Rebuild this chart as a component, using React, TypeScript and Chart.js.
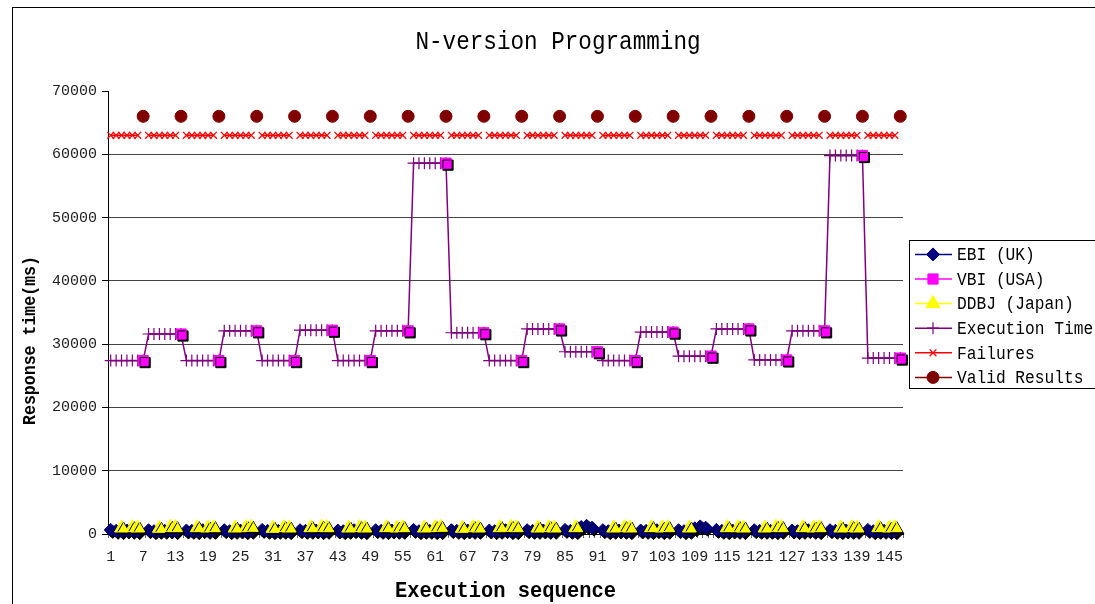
import React, { useEffect, useRef } from 'react';
import { Chart, registerables } from 'chart.js';
import { drawPoint } from 'chart.js/helpers';

Chart.register(...registerables);

const categories = [
  1, 2, 3, 4, 5, 6, 7, 8, 9, 10, 11, 12, 13, 14, 15, 16, 17, 18, 19, 20,
  21, 22, 23, 24, 25, 26, 27, 28, 29, 30, 31, 32, 33, 34, 35, 36, 37, 38, 39, 40,
  41, 42, 43, 44, 45, 46, 47, 48, 49, 50, 51, 52, 53, 54, 55, 56, 57, 58, 59, 60,
  61, 62, 63, 64, 65, 66, 67, 68, 69, 70, 71, 72, 73, 74, 75, 76, 77, 78, 79, 80,
  81, 82, 83, 84, 85, 86, 87, 88, 89, 90, 91, 92, 93, 94, 95, 96, 97, 98, 99, 100,
  101, 102, 103, 104, 105, 106, 107, 108, 109, 110, 111, 112, 113, 114, 115, 116, 117, 118, 119, 120,
  121, 122, 123, 124, 125, 126, 127, 128, 129, 130, 131, 132, 133, 134, 135, 136, 137, 138, 139, 140,
  141, 142, 143, 144, 145, 146, 147,
];

const yTicks = [0, 10000, 20000, 30000, 40000, 50000, 60000, 70000];

const ebi = [
  650, 500, 450, 550, 500, 450, null,
  600, 450, 500, 500, 550, 450, null,
  550, 500, 450, 600, 500, 500, null,
  600, 450, 500, 550, 450, 500, null,
  650, 500, 450, 500, 500, 450, null,
  600, 500, 500, 550, 450, 500, null,
  550, 450, 500, 600, 500, 450, null,
  600, 500, 450, 550, 500, 500, null,
  650, 450, 500, 500, 450, 450, null,
  600, 500, 450, 550, 500, 500, null,
  550, 450, 500, 600, 450, 450, null,
  600, 500, 500, 550, 500, 500, null,
  650, 500, 450, 1100, 1300, 1000, null,
  600, 450, 500, 550, 500, 450, null,
  550, 500, 450, 600, 450, 500, null,
  600, 450, 500, 900, 1200, 1000, null,
  650, 500, 450, 550, 500, 450, null,
  600, 500, 500, 500, 450, 500, null,
  550, 450, 500, 600, 500, 450, null,
  600, 500, 450, 550, 500, 500, null,
  650, 450, 500, 500, 450, 450, null,
];

const vbi = [
  null, null, null, null, null, null, 27400,
  null, null, null, null, null, null, 31600,
  null, null, null, null, null, null, 27400,
  null, null, null, null, null, null, 32100,
  null, null, null, null, null, null, 27400,
  null, null, null, null, null, null, 32200,
  null, null, null, null, null, null, 27400,
  null, null, null, null, null, null, 32100,
  null, null, null, null, null, null, 58600,
  null, null, null, null, null, null, 31800,
  null, null, null, null, null, null, 27400,
  null, null, null, null, null, null, 32400,
  null, null, null, null, null, null, 28800,
  null, null, null, null, null, null, 27400,
  null, null, null, null, null, null, 31900,
  null, null, null, null, null, null, 28100,
  null, null, null, null, null, null, 32400,
  null, null, null, null, null, null, 27500,
  null, null, null, null, null, null, 32100,
  null, null, null, null, null, null, 59800,
  null, null, null, null, null, null, 27800,
];

const ddbj = [
  null, null, 950, null, 1000, 950, null,
  null, null, 900, null, 1050, 1000, null,
  null, null, 1000, null, 950, 1000, null,
  null, null, 950, null, 1000, 1050, null,
  null, null, 900, null, 1000, 950, null,
  null, null, 1000, null, 1050, 1000, null,
  null, null, 950, null, 1000, 950, null,
  null, null, 1000, null, 950, 1000, null,
  null, null, 950, null, 1000, 1050, null,
  null, null, 900, null, 1000, 950, null,
  null, null, 1000, null, 1050, 1000, null,
  null, null, 950, null, 1000, 950, null,
  null, null, 1000, null, null, null, null,
  null, null, 950, null, 1000, 950, null,
  null, null, 1000, null, 950, 1000, null,
  null, null, 950, null, null, null, null,
  null, null, 1000, null, 1000, 950, null,
  null, null, 950, null, 1050, 1000, null,
  null, null, 1000, null, 950, 1000, null,
  null, null, 950, null, 1000, 950, null,
  null, null, 1000, null, 950, 1000, null,
];

const executionTime = [
  27400, 27400, 27400, 27400, 27400, 27400, 27400,
  31600, 31600, 31600, 31600, 31600, 31600, 31600,
  27400, 27400, 27400, 27400, 27400, 27400, 27400,
  32100, 32100, 32100, 32100, 32100, 32100, 32100,
  27400, 27400, 27400, 27400, 27400, 27400, 27400,
  32200, 32200, 32200, 32200, 32200, 32200, 32200,
  27400, 27400, 27400, 27400, 27400, 27400, 27400,
  32100, 32100, 32100, 32100, 32100, 32100, 32100,
  58600, 58600, 58600, 58600, 58600, 58600, 58600,
  31800, 31800, 31800, 31800, 31800, 31800, 31800,
  27400, 27400, 27400, 27400, 27400, 27400, 27400,
  32400, 32400, 32400, 32400, 32400, 32400, 32400,
  28800, 28800, 28800, 28800, 28800, 28800, 28800,
  27400, 27400, 27400, 27400, 27400, 27400, 27400,
  31900, 31900, 31900, 31900, 31900, 31900, 31900,
  28100, 28100, 28100, 28100, 28100, 28100, 28100,
  32400, 32400, 32400, 32400, 32400, 32400, 32400,
  27500, 27500, 27500, 27500, 27500, 27500, 27500,
  32100, 32100, 32100, 32100, 32100, 32100, 32100,
  59800, 59800, 59800, 59800, 59800, 59800, 59800,
  27800, 27800, 27800, 27800, 27800, 27800, 27800,
];

const failures = [
  63000, 63000, 63000, 63000, 63000, 63000, null,
  63000, 63000, 63000, 63000, 63000, 63000, null,
  63000, 63000, 63000, 63000, 63000, 63000, null,
  63000, 63000, 63000, 63000, 63000, 63000, null,
  63000, 63000, 63000, 63000, 63000, 63000, null,
  63000, 63000, 63000, 63000, 63000, 63000, null,
  63000, 63000, 63000, 63000, 63000, 63000, null,
  63000, 63000, 63000, 63000, 63000, 63000, null,
  63000, 63000, 63000, 63000, 63000, 63000, null,
  63000, 63000, 63000, 63000, 63000, 63000, null,
  63000, 63000, 63000, 63000, 63000, 63000, null,
  63000, 63000, 63000, 63000, 63000, 63000, null,
  63000, 63000, 63000, 63000, 63000, 63000, null,
  63000, 63000, 63000, 63000, 63000, 63000, null,
  63000, 63000, 63000, 63000, 63000, 63000, null,
  63000, 63000, 63000, 63000, 63000, 63000, null,
  63000, 63000, 63000, 63000, 63000, 63000, null,
  63000, 63000, 63000, 63000, 63000, 63000, null,
  63000, 63000, 63000, 63000, 63000, 63000, null,
  63000, 63000, 63000, 63000, 63000, 63000, null,
  63000, 63000, 63000, 63000, 63000, 63000, null,
];

const validResults = [
  null, null, null, null, null, null, 66000,
  null, null, null, null, null, null, 66000,
  null, null, null, null, null, null, 66000,
  null, null, null, null, null, null, 66000,
  null, null, null, null, null, null, 66000,
  null, null, null, null, null, null, 66000,
  null, null, null, null, null, null, 66000,
  null, null, null, null, null, null, 66000,
  null, null, null, null, null, null, 66000,
  null, null, null, null, null, null, 66000,
  null, null, null, null, null, null, 66000,
  null, null, null, null, null, null, 66000,
  null, null, null, null, null, null, 66000,
  null, null, null, null, null, null, 66000,
  null, null, null, null, null, null, 66000,
  null, null, null, null, null, null, 66000,
  null, null, null, null, null, null, 66000,
  null, null, null, null, null, null, 66000,
  null, null, null, null, null, null, 66000,
  null, null, null, null, null, null, 66000,
  null, null, null, null, null, null, 66000,
];

const MONO = '"Liberation Mono", "DejaVu Sans Mono", monospace';

function drawText(
  ctx: CanvasRenderingContext2D,
  text: string,
  x: number,
  y: number,
  font: string,
  sx: number,
  align: CanvasTextAlign,
  rotate = 0,
) {
  ctx.save();
  ctx.translate(x, y);
  if (rotate) ctx.rotate(rotate);
  ctx.scale(sx, 1);
  ctx.font = font;
  ctx.textAlign = align;
  ctx.textBaseline = 'middle';
  ctx.fillStyle = '#000';
  ctx.fillText(text, 0, 0);
  ctx.restore();
}

const shadowPlugin = {
  id: 'markerShadow',
  beforeDatasetDraw(chart: any, args: any) {
    const ds = chart.data.datasets[args.index];
    if (ds.shadow) {
      const ctx = chart.ctx;
      ctx.save();
      ctx.shadowColor = '#000';
      ctx.shadowOffsetX = 2;
      ctx.shadowOffsetY = 2;
      ctx.shadowBlur = 0;
    }
  },
  afterDatasetDraw(chart: any, args: any) {
    const ds = chart.data.datasets[args.index];
    if (ds.shadow) chart.ctx.restore();
  },
};

const decorPlugin = {
  id: 'decor',
  afterDraw(chart: any) {
    const ctx: CanvasRenderingContext2D = chart.ctx;
    const area = chart.chartArea;
    // Title
    drawText(ctx, 'N-version Programming', chart.width / 2, 34, `26px ${MONO}`, 0.87, 'center');
    // Axis titles
    drawText(ctx, 'Execution sequence', (area.left + area.right) / 2, 583, `bold 22px ${MONO}`, 0.93, 'center');
    drawText(ctx, 'Response time(ms)', 17, (area.top + area.bottom) / 2 + 28, `bold 18px ${MONO}`, 0.92, 'center', -Math.PI / 2);

    // Legend
    const boxLeft = area.right + 6;
    const rowH = 24.6;
    const n = chart.data.datasets.length;
    const boxH = rowH * n + 0.6;
    const boxTop = (area.top + area.bottom) / 2 - boxH / 2 + 2;
    ctx.save();
    ctx.fillStyle = '#fff';
    ctx.fillRect(boxLeft, boxTop, 300, boxH);
    ctx.strokeStyle = '#000';
    ctx.lineWidth = 1;
    ctx.strokeRect(Math.round(boxLeft) + 0.5, Math.round(boxTop) + 0.5, 300, Math.round(boxH));
    chart.data.datasets.forEach((ds: any, i: number) => {
      const cy = boxTop + 14 + i * rowH;
      ctx.strokeStyle = ds.borderColor;
      ctx.lineWidth = 1.5;
      ctx.beginPath();
      ctx.moveTo(boxLeft + 6, cy);
      ctx.lineTo(boxLeft + 43, cy);
      ctx.stroke();
      ctx.fillStyle = ds.pointBackgroundColor;
      ctx.strokeStyle = ds.pointBorderColor;
      ctx.lineWidth = ds.pointBorderWidth;
      drawPoint(ctx, { pointStyle: ds.pointStyle, radius: ds.pointRadius, rotation: 0, borderWidth: ds.pointBorderWidth }, boxLeft + 24, cy);
      drawText(ctx, ds.label, boxLeft + 48, cy + 1, `18px ${MONO}`, 0.9, 'left');
    });
    ctx.restore();
  },
};

export default function App() {
  const ref = useRef<HTMLCanvasElement>(null);

  useEffect(() => {
    document.body.style.overflow = 'hidden';
    const labels = categories.map(String);
    const common = { clip: false, spanGaps: false, tension: 0 };
    const chart = new Chart(ref.current as HTMLCanvasElement, {
      type: 'line',
      data: {
        labels,
        datasets: [
          {
            ...common,
            label: 'EBI (UK)',
            data: ebi,
            borderColor: '#000080',
            backgroundColor: '#000080',
            borderWidth: 1.5,
            pointStyle: 'rectRot',
            pointRadius: 6.5,
            pointBackgroundColor: '#000080',
            pointBorderColor: '#000080',
            pointBorderWidth: 1,
            order: 3,
            shadow: true,
          } as any,
          {
            ...common,
            label: 'VBI (USA)',
            data: vbi,
            borderColor: '#FF00FF',
            backgroundColor: '#FF00FF',
            borderWidth: 1.5,
            pointStyle: 'rect',
            pointRadius: 7.2,
            pointBackgroundColor: '#FF00FF',
            pointBorderColor: '#FF00FF',
            pointBorderWidth: 1,
            order: 1,
            shadow: true,
          } as any,
          {
            ...common,
            label: 'DDBJ (Japan)',
            data: ddbj,
            borderColor: '#FFFF00',
            backgroundColor: '#FFFF00',
            borderWidth: 1.5,
            pointStyle: 'triangle',
            pointRadius: 8,
            pointBackgroundColor: '#FFFF00',
            pointBorderColor: '#FFFF00',
            pointBorderWidth: 1,
            order: 2,
            shadow: true,
          } as any,
          {
            ...common,
            label: 'Execution Time',
            data: executionTime,
            borderColor: '#800080',
            backgroundColor: '#800080',
            borderWidth: 1.5,
            pointStyle: 'cross',
            pointRadius: 6,
            pointBackgroundColor: '#800080',
            pointBorderColor: '#800080',
            pointBorderWidth: 1.2,
            order: 6,
          } as any,
          {
            ...common,
            label: 'Failures',
            data: failures,
            borderColor: '#FF0000',
            backgroundColor: '#FF0000',
            borderWidth: 1.5,
            pointStyle: 'crossRot',
            pointRadius: 4.8,
            pointBackgroundColor: '#FF0000',
            pointBorderColor: '#FF0000',
            pointBorderWidth: 1.3,
            order: 5,
          } as any,
          {
            ...common,
            label: 'Valid Results',
            data: validResults,
            borderColor: '#800000',
            backgroundColor: '#800000',
            borderWidth: 1.5,
            pointStyle: 'circle',
            pointRadius: 6,
            pointBackgroundColor: '#800000',
            pointBorderColor: '#800000',
            pointBorderWidth: 1,
            order: 4,
          } as any,
        ],
      },
      options: {
        animation: false,
        responsive: false,
        devicePixelRatio: 1,
        layout: { padding: { top: 83, right: 200, bottom: 0, left: 0 } },
        plugins: {
          legend: { display: false },
          title: { display: false },
          tooltip: { enabled: false },
        },
        scales: {
          x: {
            type: 'category',
            offset: true,
            afterFit: (scale: any) => {
              scale.height = 74;
            },
            grid: {
              display: true,
              drawOnChartArea: false,
              drawTicks: true,
              tickLength: 4,
              offset: true,
              tickColor: '#666',
            },
            border: { display: true, color: '#000', width: 1 },
            ticks: {
              autoSkip: false,
              maxRotation: 0,
              minRotation: 0,
              padding: 10,
              color: '#222',
              font: { family: MONO, size: 15 },
              callback: (_v: any, i: number) => (i % 6 === 0 ? labels[i] : ''),
            },
          },
          y: {
            min: 0,
            max: 70000,
            afterFit: (scale: any) => {
              scale.width = 95;
            },
            afterBuildTicks: (scale: any) => {
              scale.ticks = yTicks.map((v) => ({ value: v }));
            },
            grid: {
              color: (c: any) => (c.tick && c.tick.value === 70000 ? 'rgba(0,0,0,0)' : '#444'),
              lineWidth: 1,
              drawTicks: true,
              tickLength: 6,
              tickColor: '#000',
            },
            border: { display: true, color: '#000', width: 1 },
            ticks: {
              padding: 5,
              color: '#222',
              font: { family: MONO, size: 15 },
              callback: (v: any) => String(v),
            },
          },
        },
      } as any,
      plugins: [shadowPlugin, decorPlugin],
    });
    return () => chart.destroy();
  }, []);

  return (
    <div
      style={{
        position: 'absolute',
        left: 12,
        top: 7,
        width: 1100,
        height: 620,
        border: '1px solid #000',
        background: '#fff',
        overflow: 'hidden',
      }}
    >
      <canvas ref={ref} width={1090} height={600} style={{ display: 'block' }} />
    </div>
  );
}
